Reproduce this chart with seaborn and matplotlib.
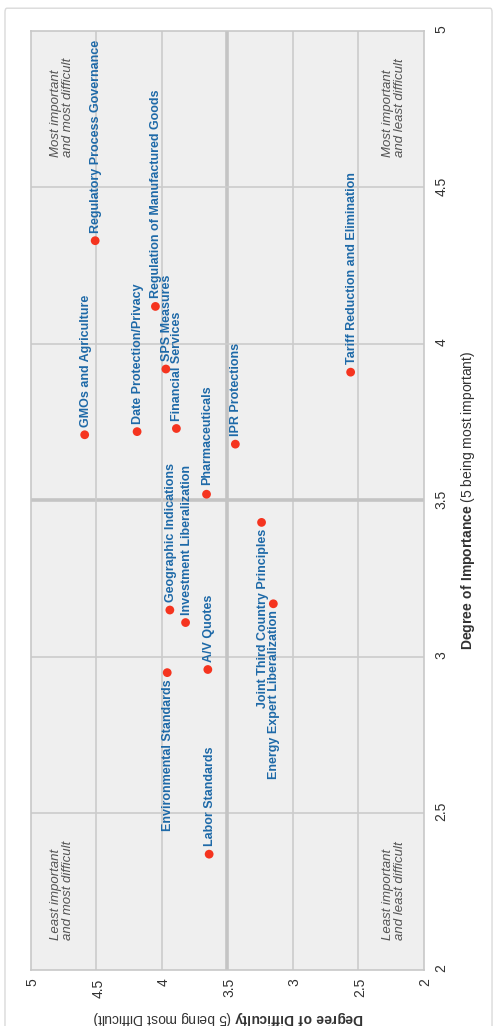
import numpy as np
import pandas as pd
import seaborn as sns
from matplotlib import pyplot as plt
from matplotlib.patches import FancyBboxPatch

# issues scored on importance (x) and difficulty (y)
issues = ['Regulatory Process Governance', 'Regulation of Manufactured Goods',
          'SPS Measures', 'Financial Services', 'GMOs and Agriculture',
          'Date Protection/Privacy', 'Pharmaceuticals', 'IPR Protections',
          'Tariff Reduction and Elimination', 'Geographic Indications',
          'Joint Third Country Principles', 'Energy Expert Liberalization',
          'Investment Liberalization', 'A/V Quotes', 'Environmental Standards',
          'Labor Standards']
importance = [4.33, 4.12, 3.92, 3.73, 3.71, 3.72, 3.52, 3.68,
              3.91, 3.15, 3.43, 3.17, 3.11, 2.96, 2.95, 2.37]
difficulty = [4.51, 4.05, 3.97, 3.89, 4.59, 4.19, 3.66, 3.44,
              2.56, 3.94, 3.24, 3.15, 3.82, 3.65, 3.96, 3.64]
# labels that sit on the other side of their dot
left_labels = ['Joint Third Country Principles', 'Energy Expert Liberalization',
               'Environmental Standards']
tick_vals = [2, 2.5, 3, 3.5, 4, 4.5, 5]
tick_text = ['2', '2.5', '3', '3.5', '4', '4.5', '5']
quad_tl = 'Least important\nand most difficult'
quad_tr = 'Most important\nand most difficult'
quad_bl = 'Least important\nand least difficult'
quad_br = 'Most important\nand least difficult'

df = pd.DataFrame({'issue': issues, 'importance': importance, 'difficulty': difficulty})

sns.set_style('white')
plt.rcParams['font.family'] = ['Liberation Sans', 'DejaVu Sans']
plt.rcParams['mathtext.fontset'] = 'custom'
plt.rcParams['mathtext.rm'] = 'Liberation Sans'
plt.rcParams['mathtext.bf'] = 'Liberation Sans:bold'

# chart is drawn landscape, then turned a quarter turn for the output
fig = plt.figure(figsize=(10.26, 4.98), dpi=100)
fig.patch.set_facecolor('white')
fig.patches.append(FancyBboxPatch((-0.01, 0.012), 1.002, 0.978, boxstyle='round,pad=0,rounding_size=0.004',
                                  transform=fig.transFigure, fc='none', ec='#dadada', lw=1.0, zorder=-1))

ax = fig.add_axes([0.0546, 0.1486, 0.9152, 0.7892])
ax.set_facecolor('#efefef')

for v in tick_vals:
    if v in (2, 5):
        continue
    w = 2.6 if v == 3.5 else 1.2
    c = '#c4c4c4' if v == 3.5 else '#cccccc'
    ax.axvline(v, color=c, lw=w, zorder=1)
    ax.axhline(v, color=c, lw=w, zorder=1)

sns.scatterplot(data=df, x='importance', y='difficulty', ax=ax, color='#f5341f',
                s=40, edgecolor='none', zorder=3, legend=False)

for name, x, y in zip(issues, importance, difficulty):
    if name in left_labels:
        ax.annotate(name, (x, y), xytext=(-5.5, 0), textcoords='offset points',
                    ha='right', va='center', fontsize=9, fontweight='bold', color='#1f6aa8', zorder=4)
    else:
        ax.annotate(name, (x, y), xytext=(5, 0), textcoords='offset points',
                    ha='left', va='center', fontsize=9, fontweight='bold', color='#1f6aa8', zorder=4)

qkw = dict(transform=ax.transAxes, fontsize=9.5, style='italic', color='#555555',
           linespacing=1.05, ha='left', multialignment='left')
ax.text(0.031, 0.955, quad_tl, va='top', **qkw)
ax.text(0.865, 0.955, quad_tr, va='top', **qkw)
ax.text(0.031, 0.048, quad_bl, va='bottom', **qkw)
ax.text(0.865, 0.048, quad_br, va='bottom', **qkw)

ax.set_xlim(2, 5)
ax.set_ylim(2, 5)
ax.set_xticks(tick_vals)
ax.set_xticklabels(tick_text)
ax.set_yticks(tick_vals)
ax.set_yticklabels(tick_text)
ax.tick_params(length=0, labelsize=10, labelcolor='#333333', pad=7)
ax.tick_params(axis='y', pad=7)
for sp in ax.spines.values():
    sp.set_color('#c8c8c8')
    sp.set_linewidth(1.2)
ax.set_xlabel('')
ax.set_ylabel('')

fig.text(0.5117, 0.062, r'$\bf{Degree\ of\ Importance}$ (5 being most important)',
         ha='center', va='center', fontsize=10, color='#333333')
fig.text(0.0065, 0.543, r'$\bf{Degree\ of\ Difficulty}$ (5 being most Difficult)',
         ha='center', va='center', rotation=90, fontsize=10, color='#333333')

fig.canvas.draw()
img = np.asarray(fig.canvas.buffer_rgba())
img = np.rot90(img, k=1)
plt.imsave('out.png', np.ascontiguousarray(img))
